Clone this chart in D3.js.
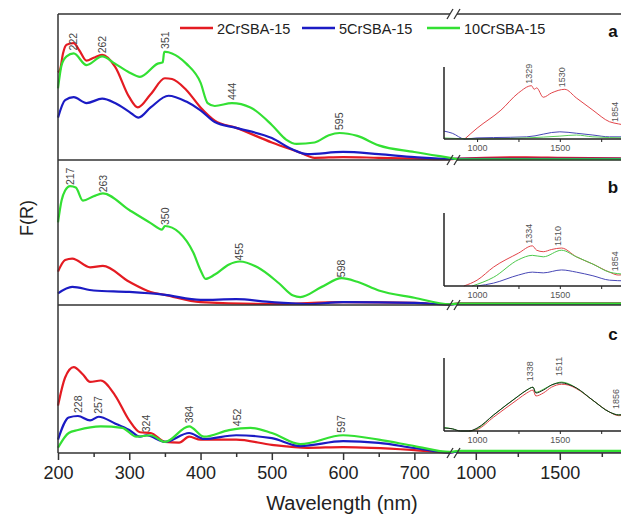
<!DOCTYPE html>
<html>
<head>
<meta charset="utf-8">
<script src="https://cdn.jsdelivr.net/npm/d3@7/dist/d3.min.js"></script>
<style>
  body { margin: 0; background: #fff; }
  svg { display: block; font-family: Arial, "Liberation Sans", sans-serif; }
</style>
</head>
<body>
<svg id="chart" width="621" height="515"></svg>
<script>
// ---- data (wavelength nm, F(R) in relative units) ----
const seriesNames = ['2CrSBA-15', '5CrSBA-15', '10CrSBA-15'];
const panelLetters = ['a', 'b', 'c'];

const redA = [[200,.60],[203,.62],[207,.73],[212,.79],[222,.80],[230,.75],[240,.68],[250,.70],[262,.72],[280,.64],[300,.43],[312,.36],[330,.45],[350,.56],[360,.555],[380,.48],[400,.36],[420,.27],[450,.22],[500,.12],[540,.05],[560,.015],[600,.02],[650,.015],[700,.01],[750,.005],[900,.01],[1300,.018],[1500,.015],[1900,.01]];
const blueA = [[200,.29],[210,.41],[222,.43],[240,.39],[262,.42],[280,.39],[300,.33],[313,.29],[330,.36],[355,.44],[380,.40],[400,.34],[420,.26],[450,.22],[500,.15],[530,.07],[550,.04],[600,.055],[650,.04],[700,.02],[750,.007],[900,.008],[1900,.008]];
const greenA = [[200,.49],[205,.65],[212,.71],[222,.73],[240,.65],[262,.71],[280,.66],[300,.60],[315,.57],[340,.66],[347,.67],[349,.74],[351,.74],[360,.73],[380,.66],[400,.53],[410,.39],[420,.37],[444,.39],[470,.36],[500,.24],[520,.14],[535,.11],[560,.12],[580,.17],[595,.185],[620,.165],[650,.10],[700,.055],[750,.015],[900,.005],[1900,.005]];

const redB = [[200,.23],[210,.31],[220,.32],[245,.26],[263,.27],[300,.16],[330,.09],[350,.07],[400,.02],[500,.007],[600,.02],[700,.014],[750,.003],[900,.012],[1900,.012]];
const blueB = [[200,.08],[220,.125],[250,.10],[300,.09],[350,.07],[400,.035],[450,.04],[500,.02],[550,.007],[600,.02],[700,.014],[750,.003],[900,.008],[1900,.008]];
const greenB = [[200,.57],[205,.72],[210,.79],[217,.82],[225,.81],[235,.72],[250,.75],[263,.77],[300,.655],[330,.565],[346,.52],[350,.545],[370,.50],[390,.36],[400,.24],[407,.18],[420,.21],[440,.28],[455,.30],[480,.26],[510,.15],[530,.065],[540,.055],[570,.125],[598,.185],[620,.16],[650,.10],[700,.05],[750,.005],[900,.01],[1900,.01]];

const redC = [[200,.32],[210,.51],[222,.58],[235,.53],[245,.48],[260,.49],[280,.39],[300,.22],[315,.14],[330,.135],[350,.075],[370,.07],[384,.11],[400,.09],[450,.09],[500,.055],[550,.035],[600,.04],[700,.02],[750,.003],[900,.01],[1900,.01]];
const blueC = [[200,.09],[215,.24],[228,.25],[245,.22],[257,.245],[280,.20],[300,.155],[315,.11],[324,.12],[350,.075],[384,.135],[405,.095],[450,.12],[500,.10],[540,.047],[600,.08],[650,.068],[700,.034],[750,.003],[900,.01],[1900,.01]];
const greenC = [[200,.035],[215,.135],[228,.155],[260,.18],[290,.17],[310,.11],[330,.12],[350,.075],[384,.18],[405,.11],[440,.155],[470,.17],[500,.135],[540,.06],[600,.12],[650,.09],[700,.047],[750,.007],[900,.015],[1900,.015]];

// insets (NIR region)
const insRedA = [[925,0],[1000,.15],[1144,.40],[1250,.64],[1329,.74],[1345,.69],[1360,.71],[1400,.58],[1450,.64],[1530,.69],[1600,.57],[1700,.40],[1800,.24],[1854,.21],[1900,.19]];
const insBlueA = [[800,.11],[850,.08],[925,0],[1000,.015],[1100,.02],[1300,.03],[1500,.10],[1600,.08],[1700,.055],[1800,.03],[1900,.03]];
const insGreenA = [[800,.015],[1000,0],[1300,.015],[1500,.04],[1600,.055],[1700,.03],[1900,.015]];

const insRedB = [[920,0],[1000,.08],[1100,.26],[1250,.45],[1334,.55],[1360,.49],[1400,.47],[1450,.50],[1510,.52],[1600,.40],[1700,.30],[1800,.19],[1854,.15],[1900,.16]];
const insBlueB = [[1000,0],[1100,.04],[1250,.15],[1334,.19],[1400,.18],[1510,.22],[1600,.19],[1700,.14],[1800,.08],[1900,.07]];
const insGreenB = [[970,0],[1100,.12],[1250,.36],[1334,.42],[1400,.40],[1510,.49],[1600,.40],[1700,.30],[1800,.19],[1900,.16]];

const insRedC = [[950,0],[1000,.02],[1100,.19],[1250,.44],[1300,.52],[1338,.56],[1355,.48],[1400,.52],[1450,.60],[1511,.64],[1550,.63],[1600,.58],[1700,.42],[1800,.26],[1856,.21],[1900,.22]];
const insDarkC = [[800,.04],[850,.03],[900,0],[950,0],[1000,.04],[1100,.22],[1250,.48],[1300,.56],[1338,.60],[1355,.52],[1400,.56],[1450,.63],[1511,.66],[1550,.64],[1600,.59],[1700,.42],[1800,.26],[1856,.22],[1900,.23]];
const insGreenC = [[800,.05],[850,.03],[900,0],[960,0],[1000,.03],[1100,.22],[1250,.48],[1300,.56],[1338,.60],[1355,.53],[1400,.57],[1450,.63],[1511,.67],[1550,.65],[1600,.59],[1700,.42],[1800,.26],[1856,.22],[1900,.23]];

// peak labels
const peaksA = [222, 262, 351, 444, 595];
const peaksB = [217, 263, 350, 455, 598];
const peaksC = [228, 257, 324, 384, 452, 597];
const insPeaksA = [1329, 1530, 1854];
const insPeaksB = [1334, 1510, 1854];
const insPeaksC = [1338, 1511, 1856];

// axis ticks
const leftTicks = [200,250,300,350,400,450,500,550,600,650,700];
const rightTicks = [1000,1250,1500,1750];

// ---- drawing ----
const svg = d3.select('#chart');
const mainColors = ['#e41b22', '#1b1bc4', '#33e033'];
const axisColor = '#333';

const x = d3.scaleLinear().domain([200, 750, 900, 1900]).range([58, 450, 459, 627]);
const xIns = d3.scaleLinear().domain([800, 1900]).range([444, 626]);
const breakX = 447;

const panels = [
  { top: 14, bottom: 160, lines: [redA, blueA, greenA], peaks: peaksA, ref: [2], gap: 3,
    inset: { top: 67, bottom: 139, lines: [insRedA, insBlueA, insGreenA], colors: ['#e2454a', '#4848b6', '#5ccf5c'], peaks: insPeaksA, gap: 2 } },
  { top: 160, bottom: 305, lines: [redB, blueB, greenB], peaks: peaksB, ref: [2], gap: 1,
    inset: { top: 213, bottom: 286, lines: [insRedB, insBlueB, insGreenB], colors: ['#e2454a', '#4848b6', '#4cc94c'], peaks: insPeaksB, gap: 2 } },
  { top: 305, bottom: 453, lines: [redC, blueC, greenC], peaks: peaksC, ref: [1, 2], gap: 3,
    inset: { top: 358, bottom: 431, lines: [insRedC, insGreenC, insDarkC], colors: ['#e2454a', '#3fc43f', '#1a2a1a'], peaks: insPeaksC, gap: 6 } }
];

function valueAt(data, w) {
  const i = d3.bisector(d => d[0]).left(data, w);
  if (i <= 0) return data[0][1];
  if (i >= data.length) return data[data.length - 1][1];
  const a = data[i - 1], b = data[i];
  return a[1] + (b[1] - a[1]) * (w - a[0]) / (b[0] - a[0]);
}

function hline(y, x0, x1) {
  svg.append('line').attr('x1', x0).attr('x2', x1).attr('y1', y).attr('y2', y)
    .attr('stroke', axisColor).attr('stroke-width', 1.5);
}

function breakMark(y) {
  [0, 7].forEach(off => {
    svg.append('line')
      .attr('x1', breakX + off).attr('y1', y + 5)
      .attr('x2', breakX + off + 6).attr('y2', y - 5)
      .attr('stroke', axisColor).attr('stroke-width', 1.3);
  });
}

panels.forEach((p, pi) => {
  const y = d3.scaleLinear().domain([0, 1]).range([p.bottom, p.top]);
  const line = d3.line().x(d => x(d[0])).y(d => y(d[1])).curve(d3.curveMonotoneX);

  p.lines.forEach((data, si) => {
    svg.append('path').datum(data)
      .attr('d', line)
      .attr('fill', 'none')
      .attr('stroke', mainColors[si])
      .attr('stroke-width', 2.2)
      .attr('stroke-linejoin', 'round');
  });

  // peak labels
  p.peaks.forEach(w => {
    const v = d3.max(p.ref, r => valueAt(p.lines[r], w));
    const py = y(v) - p.gap;
    svg.append('text')
      .attr('transform', 'translate(' + x(w) + ',' + py + ') rotate(-90)')
      .attr('dy', '0.35em')
      .attr('font-size', 10.5)
      .attr('fill', '#444')
      .text(w);
  });

  // inset
  const ins = p.inset;
  const yi = d3.scaleLinear().domain([0, 1]).range([ins.bottom, ins.top]);
  const lineI = d3.line().x(d => xIns(d[0])).y(d => yi(d[1])).curve(d3.curveMonotoneX);
  ins.lines.forEach((data, si) => {
    svg.append('path').datum(data)
      .attr('d', lineI)
      .attr('fill', 'none')
      .attr('stroke', ins.colors[si])
      .attr('stroke-width', 1);
  });
  // labels sit just left of the peak (baseline on the peak position)
  ins.peaks.forEach(w => {
    const v = d3.max(ins.lines, l => valueAt(l, w));
    svg.append('text')
      .attr('transform', 'translate(' + xIns(w) + ',' + (yi(v) - ins.gap) + ') rotate(-90)')
      .attr('font-size', 9)
      .attr('fill', '#555')
      .text(w);
  });
  const gi = svg.append('g').attr('transform', 'translate(0,' + ins.bottom + ')')
    .call(d3.axisBottom(xIns).tickValues(rightTicks).tickSize(3).tickPadding(3)
      .tickFormat(d => d % 500 === 0 ? d : ''));
  gi.select('.domain').remove();
  gi.selectAll('line').attr('stroke', '#222');
  gi.selectAll('text').attr('font-size', 9).attr('fill', '#555').attr('font-family', null);
  svg.append('line').attr('x1', xIns.range()[0]).attr('x2', xIns.range()[0])
    .attr('y1', ins.top).attr('y2', ins.bottom).attr('stroke', '#222').attr('stroke-width', 1.5);
  svg.append('line').attr('x1', xIns.range()[0]).attr('x2', 640)
    .attr('y1', ins.bottom).attr('y2', ins.bottom).attr('stroke', '#222').attr('stroke-width', 1.5);

  // panel letter
  svg.append('text').attr('x', 613).attr('y', p.top + [23, 33, 35][pi])
    .attr('text-anchor', 'middle').attr('font-size', 17).attr('font-weight', 'bold')
    .attr('fill', '#111').text(panelLetters[pi]);
});

// frame with axis breaks
const gapL = x(750), gapR = breakX + 10;
[14, 160, 305, 453].forEach(yy => {
  hline(yy, 58, gapL);
  hline(yy, gapR, 640);
  breakMark(yy);
});
svg.append('line').attr('x1', 58).attr('x2', 58).attr('y1', 14).attr('y2', 453)
  .attr('stroke', axisColor).attr('stroke-width', 1.5);

// bottom axis
function bottomAxis(values) {
  const g = svg.append('g').attr('transform', 'translate(0,453)')
    .call(d3.axisBottom(x).tickValues(values).tickSize(7).tickPadding(6)
      .tickFormat(d => (d < 800 ? d % 100 === 0 : d % 500 === 0) ? d : ''));
  g.select('.domain').remove();
  g.selectAll('line').attr('stroke', axisColor).attr('stroke-width', 1.5)
    .attr('y2', d => (d < 800 ? d % 100 === 0 : d % 500 === 0) ? 7 : 4);
  g.selectAll('text').attr('font-size', 18).attr('fill', '#222').attr('font-family', null);
}
bottomAxis(leftTicks);
bottomAxis(rightTicks);

svg.append('text').attr('x', 342).attr('y', 510).attr('text-anchor', 'middle')
  .attr('font-size', 20).attr('fill', '#222').text('Wavelength (nm)');
svg.append('text').attr('transform', 'translate(33,218) rotate(-90)').attr('text-anchor', 'middle')
  .attr('font-size', 18).attr('fill', '#222').text('F(R)');

// legend
const legendX = [180, 302, 427];
seriesNames.forEach((name, i) => {
  svg.append('line').attr('x1', legendX[i]).attr('x2', legendX[i] + 33)
    .attr('y1', 28).attr('y2', 28).attr('stroke', mainColors[i]).attr('stroke-width', 2.5);
  svg.append('text').attr('x', legendX[i] + 37).attr('y', 33.5)
    .attr('font-size', 14.5).attr('fill', '#222').text(name);
});
</script>
</body>
</html>
